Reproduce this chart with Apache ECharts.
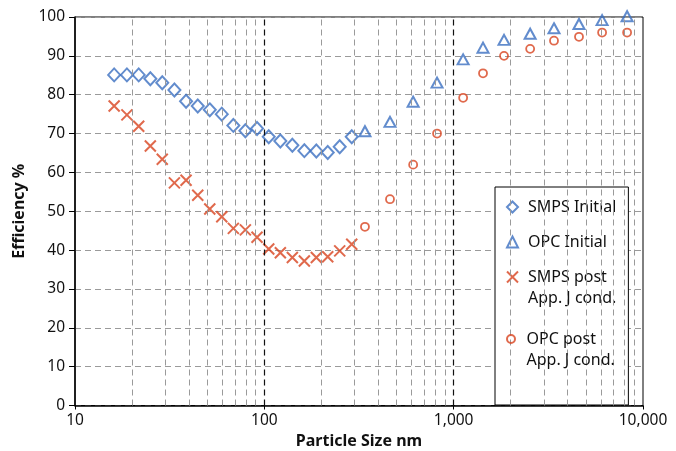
<!DOCTYPE html>
<html><head><meta charset="utf-8">
<script src="https://cdn.jsdelivr.net/npm/echarts@6/dist/echarts.min.js"></script>
<style>html,body{margin:0;padding:0;background:#fff}#c{width:676px;height:451px}</style>
</head><body><div id="c"></div>
<script>
// SMPS channels (nm)
const smpsSizes = [16.1, 18.8, 21.7, 25.0, 28.9, 33.5, 38.6, 44.5, 51.5, 59.6, 68.6, 79.4, 91.5, 105.5, 121.5, 140.6, 162.7, 188.2, 216.2, 250.1, 289.5];
const smpsInitial = [85.1, 85.1, 85.1, 84.1, 83.1, 81.2, 78.3, 77.1, 76.1, 75.0, 72.1, 70.7, 71.3, 69.2, 68.1, 67.0, 65.6, 65.5, 65.1, 66.6, 69.2];
const smpsPost = [77.1, 74.8, 71.9, 66.8, 63.4, 57.3, 58.0, 54.1, 50.6, 48.6, 45.6, 45.2, 43.3, 40.3, 39.3, 38.1, 37.2, 38.1, 38.3, 39.8, 41.5];
// OPC channels (nm)
const opcSizes = [340, 461, 611, 817, 1122, 1429, 1845, 2535, 3388, 4592, 6081, 8242];
const opcInitial = [70.6, 73.0, 78.2, 83.1, 89.1, 92.1, 94.1, 95.7, 97.1, 98.2, 99.2, 100.2];
const opcPost = [46.0, 53.1, 62.0, 70.0, 79.2, 85.5, 90.0, 91.8, 93.9, 94.9, 96.0, 96.0];
const minorGrid = [20,30,40,50,60,70,80,90,200,300,400,500,600,700,800,900,2000,3000,4000,5000,6000,7000,8000,9000];
const majorGrid = [100, 1000];
const xTicks = [10, 100, 1000, 10000];
const legendSecondLine = 'App. J cond.';

const BLUE = '#3b6fc0', RED = '#d8431f';
const FONT = 'Noto Sans';
const pair = (xs, ys) => xs.map((x, i) => [x, ys[i]]);

const tok = {fontFamily: FONT, fontSize: 16, color: '#111', lineHeight: 20, height: 20, padding: [0, 0, 0, 5]};
const legendText = {
  fontFamily: FONT, fontSize: 16, color: '#111', lineHeight: 20,
  rich: {
    s: tok,
    a: tok,
    b: Object.assign({}, tok, {lineHeight: 0, height: 22, verticalAlign: 'top'})
  }
};
const legendFormatter = n => (n === 'SMPS post' || n === 'OPC post') ? '{a|' + n + '}\n{b|' + legendSecondLine + '}' : '{s|' + n + '}';

const chart = echarts.init(document.getElementById('c'), null, {renderer: 'canvas'});
chart.setOption({
  animation: false,
  grid: {left: 75, right: 33, top: 17, bottom: 45.5, outerBoundsMode: 'none', containLabel: false,
    show: true, borderColor: '#000', borderWidth: 1},
  xAxis: {
    type: 'log', logBase: 10, min: 10, max: 10000,
    name: 'Particle Size nm', nameLocation: 'middle', nameGap: 23,
    nameTextStyle: {fontFamily: FONT, fontWeight: 'bold', fontSize: 16, color: '#111'},
    axisLine: {lineStyle: {color: '#000', width: 1.5}},
    axisTick: {show: true, length: 4, lineStyle: {color: '#000'}},
    axisLabel: {fontFamily: FONT, fontSize: 15.5, color: '#111', margin: 7,
      formatter: v => xTicks.indexOf(Math.round(v)) >= 0 ? Math.round(v).toLocaleString('en-US') : ''},
    splitLine: {show: false},
    minorTick: {show: false}
  },
  yAxis: {
    type: 'value', min: 0, max: 100, interval: 10,
    name: 'Efficiency %', nameLocation: 'middle', nameGap: 43, nameRotate: 90,
    nameTextStyle: {fontFamily: FONT, fontWeight: 'bold', fontSize: 16, color: '#111'},
    axisLine: {show: true, lineStyle: {color: '#000', width: 1.5}},
    axisTick: {show: true, length: 6, lineStyle: {color: '#000'}},
    axisLabel: {fontFamily: FONT, fontSize: 15.5, color: '#111', margin: 10},
    splitLine: {show: true, lineStyle: {color: '#9a9a9a', type: [6, 4], width: 1}}
  },
  legend: [
    {
      orient: 'vertical', left: 495, top: 187, z: 4, selectedMode: false,
      backgroundColor: '#fff', borderColor: '#000', borderWidth: 1,
      padding: [10, 12, 99, 9.5],
      itemGap: 15, itemWidth: 11, itemHeight: 11,
      textStyle: legendText,
      data: ['SMPS Initial', 'OPC Initial', 'SMPS post'],
      formatter: legendFormatter
    },
    {
      orient: 'vertical', left: 504.5, top: 329, z: 6, selectedMode: false,
      padding: 0, itemWidth: 11, itemHeight: 8,
      textStyle: legendText,
      data: ['OPC post'],
      formatter: legendFormatter
    }
  ],
  series: [
    {
      name: 'SMPS Initial', type: 'scatter', data: pair(smpsSizes, smpsInitial),
      symbol: 'diamond', symbolSize: [12, 13],
      itemStyle: {color: 'none', borderColor: BLUE, borderWidth: 2},
      markLine: {
        silent: true, symbol: 'none', label: {show: false},
        lineStyle: {color: '#9a9a9a', type: [6, 4], width: 1},
        data: minorGrid.map(v => ({xAxis: v}))
      },
      z: 3
    },
    {
      name: 'OPC Initial', type: 'scatter', data: pair(opcSizes, opcInitial), clip: false,
      symbol: 'triangle', symbolSize: [11, 10],
      itemStyle: {color: 'none', borderColor: BLUE, borderWidth: 2},
      markLine: {
        silent: true, symbol: 'none', label: {show: false},
        lineStyle: {color: '#111', type: [6, 4], width: 1.2},
        data: majorGrid.map(v => ({xAxis: v}))
      },
      z: 3
    },
    {
      name: 'SMPS post', type: 'scatter', data: pair(smpsSizes, smpsPost),
      symbol: 'path://M0,0L10,10M10,0L0,10', symbolSize: 11,
      itemStyle: {color: 'none', borderColor: RED, borderWidth: 2},
      z: 3
    },
    {
      name: 'OPC post', type: 'scatter', data: pair(opcSizes, opcPost),
      symbol: 'circle', symbolSize: 8,
      itemStyle: {color: 'none', borderColor: RED, borderWidth: 1.8},
      z: 3
    }
  ]
});
</script></body></html>
